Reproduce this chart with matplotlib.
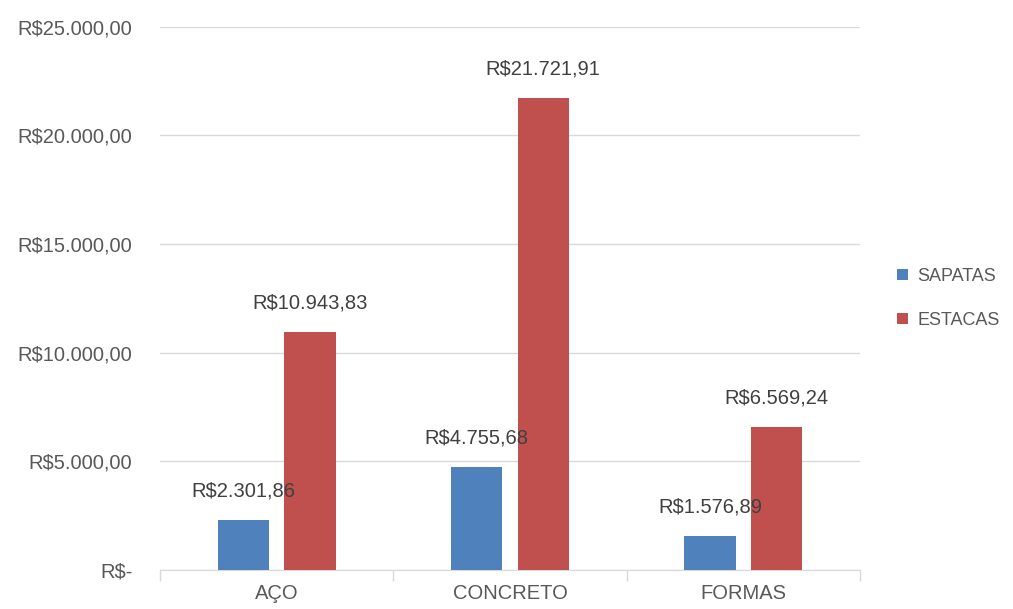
import matplotlib
matplotlib.use('Agg')
import matplotlib.pyplot as plt
import matplotlib.ticker as ticker
import numpy as np

categories = ['AÇO', 'CONCRETO', 'FORMAS']
sapatas = [2301.86, 4755.68, 1576.89]
estacas = [10943.83, 21721.91, 6569.24]
yticks = [0, 5000, 10000, 15000, 20000, 25000]

blue = '#4f81bd'
red = '#c0504d'
text_gray = '#595959'


def brl(v):
    if v == 0:
        return 'R$-'
    s = f'{v:,.2f}'.replace(',', 'X').replace('.', ',').replace('X', '.')
    return f'R${s}'


plt.rcParams['font.family'] = ['Liberation Sans', 'DejaVu Sans']
fs = 14.5

fig = plt.figure(figsize=(10.13, 6.09), dpi=100)
ax = fig.add_axes([0.158, 0.064, 0.691, 0.892])

x = np.arange(len(categories))
w = 0.22
gap = 0.065
off = (w + gap) / 2
b1 = ax.bar(x - off, sapatas, w, color=blue, label='SAPATAS', zorder=3)
b2 = ax.bar(x + off, estacas, w, color=red, label='ESTACAS', zorder=3)

for bars, vals in ((b1, sapatas), (b2, estacas)):
    for rect, v in zip(bars, vals):
        ax.annotate(brl(v), (rect.get_x() + rect.get_width() / 2, v),
                    xytext=(0, 14), textcoords='offset points',
                    ha='center', va='bottom', fontsize=fs, color='#404040')

ax.set_xlim(-0.5, len(categories) - 0.5)
ax.set_ylim(0, 25000)
ax.set_yticks(yticks)
ax.yaxis.set_major_formatter(ticker.FuncFormatter(lambda v, p: brl(v)))
ax.set_xticks(x)
ax.set_xticklabels(categories)
ax.set_xticks(np.arange(len(categories) + 1) - 0.5, minor=True)
ax.tick_params(axis='x', which='major', length=0, pad=10, labelsize=fs, labelcolor=text_gray)
ax.tick_params(axis='x', which='minor', length=8, color='#d9d9d9', width=1)
ax.tick_params(axis='y', length=0, pad=20, labelsize=fs, labelcolor=text_gray)

ax.grid(axis='y', color='#d9d9d9', linewidth=1, zorder=0)
for side in ('top', 'right', 'left'):
    ax.spines[side].set_visible(False)
ax.spines['bottom'].set_color('#d9d9d9')

ax.legend(loc='center left', bbox_to_anchor=(1.03, 0.5), frameon=False,
          fontsize=13, labelcolor=text_gray, handlelength=0.6, handleheight=0.6,
          labelspacing=1.5, handletextpad=0.5)

fig.savefig('out.png', dpi=100)
